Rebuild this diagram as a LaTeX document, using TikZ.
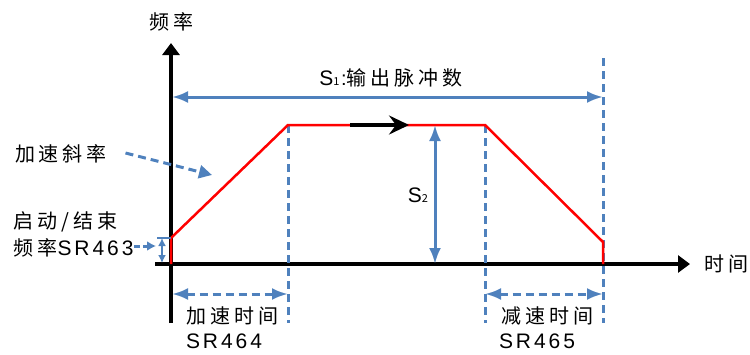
\documentclass[tikz,border=0pt]{standalone}
\usepackage{fontspec}
\setmainfont{Liberation Sans}
\newfontfamily\cjk[LetterSpace=20]{Noto Sans CJK SC}
\newfontfamily\lat[LetterSpace=14]{Liberation Sans}
\usetikzlibrary{arrows.meta}
\definecolor{cblue}{HTML}{4F81BD}
\definecolor{cred}{HTML}{FF0000}
\tikzset{
  every picture/.style={line width=1pt},
  txt/.style={inner sep=0pt, align=left, font=\fontsize{20}{26}\selectfont\cjk},
  axis/.style={line width=4.5pt, -{Triangle[length=12pt, width=17pt]}},
  curve/.style={draw=cred, line width=2.5pt, line join=miter},
  dim/.style={draw=cblue, line width=3pt, {Latex[length=16pt, width=12pt]}-{Latex[length=16pt, width=12pt]}},
  guide/.style={draw=cblue, line width=3pt, dash pattern=on 8pt off 5pt},
  pointer/.style={draw=cblue, line width=3pt, dash pattern=on 8pt off 5pt, -{Latex[length=12pt, width=11pt]}},
}

\begin{document}
\begin{tikzpicture}[x=1pt, y=-1pt]
  \useasboundingbox (0,0) rectangle (750,354);
  \coordinate (yb) at (171,323); \coordinate (yt) at (171,43);
  \coordinate (xl) at (155,264); \coordinate (xr) at (690,264);
  \coordinate (r0) at (171,264); \coordinate (r1) at (171,238);
  \coordinate (r2) at (288,125); \coordinate (r3) at (485,125);
  \coordinate (r4) at (603,242); \coordinate (r5) at (603,264);
  \coordinate (g1) at (288,323); \coordinate (g2) at (485,323);
  \coordinate (g3t) at (603,58); \coordinate (g3) at (603,323);
  \coordinate (s1a) at (172,97); \coordinate (s1b) at (603,97);
  \coordinate (s2a) at (435,125); \coordinate (s2b) at (435,264);
  \coordinate (acca) at (172,294); \coordinate (accb) at (288,294);
  \coordinate (deca) at (485,294); \coordinate (decb) at (603,294);
  \coordinate (runa) at (350,125); \coordinate (runb) at (409,125);
  \coordinate (fsa) at (162,238); \coordinate (fsb) at (162,263);
  \coordinate (fst) at (157,238);

  \node[txt] (yname) at (171,22) {频率};
  \node[txt] (xname) at (726,264) {时间};
  \node[txt] (s1lbl) at (391,78) {{\lat\fontsize{21}{26}\selectfont S}{\fontsize{11}{12}\selectfont 1\,}{\lat :}输出脉冲数};
  \node[txt] (s2lbl) at (418,195) {{\lat\fontsize{21}{26}\selectfont S}{\fontsize{11}{12}\selectfont 2}};
  \node[txt] (slopelbl) at (61,154) {加速斜率};
  \node[txt, anchor=west] (startlbl) at (13,222) {启动/结束};
  \node[txt, anchor=west] (freqlbl) at (13,248) {频率{\lat\fontsize{21}{26}\selectfont SR463}};
  \node[txt] (acclbl) at (232,316) {加速时间};
  \node[txt, font=\fontsize{21}{26}\selectfont\lat] (accreg) at (224,341) {SR464};
  \node[txt] (declbl) at (547,316) {减速时间};
  \node[txt, font=\fontsize{21}{26}\selectfont\lat] (decreg) at (537,341) {SR465};

  \draw[axis] (yb) -- (yt);
  \draw[axis] (xl) -- (xr);
  \draw[guide] (r2) -- (g1);
  \draw[guide] (r3) -- (g2);
  \draw[guide] (g3t) -- (g3);
  \draw[curve] (r0) -- (r1) -- (r2) -- (r3) -- (r4) -- (r5);
  \draw[line width=4.5pt, -{Stealth[length=20pt, width=19pt, inset=7pt]}] (runa) -- (runb);
  \draw[dim] (s1a) -- (s1b);
  \draw[dim] (s2a) -- (s2b);
  \draw[dim, dash pattern=on 8pt off 5pt] (acca) -- (accb);
  \draw[dim, dash pattern=on 8pt off 5pt] (deca) -- (decb);
  \draw[draw=cblue, line width=1.5pt] (fst) -- (r1);
  \draw[draw=cblue, line width=1.8pt, {Latex[length=8pt, width=8pt]}-{Latex[length=8pt, width=8pt]}] (fsa) -- (fsb);
  \draw[pointer, -{Latex[length=9pt, width=10pt]}, dash pattern=on 6pt off 3pt] (freqlbl.east) ++(0,-2) -- (156,246);
  \draw[pointer, -{Stealth[length=13pt, width=13pt, inset=0pt]}] (slopelbl.east) ++(18,-1) -- (212,175);
\end{tikzpicture}
\end{document}
